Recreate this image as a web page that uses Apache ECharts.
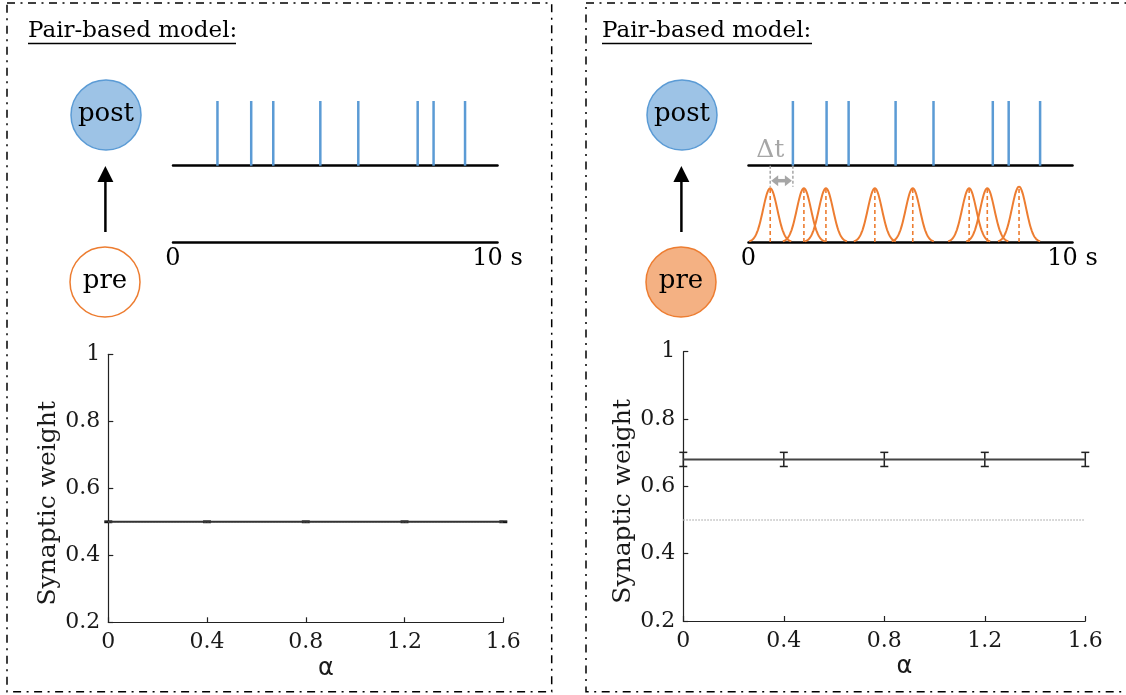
<!DOCTYPE html>
<html><head><meta charset="utf-8">
<script src="https://cdn.jsdelivr.net/npm/echarts@6/dist/echarts.min.js"></script>
<style>html,body{margin:0;padding:0;background:#fff}#c{width:1126px;height:695px}</style>
</head><body><div id="c"></div>
<script>
// ---- data ----
const postSpikeTimes = [1.37, 2.41, 3.09, 4.54, 5.71, 7.54, 8.03, 9.00];   // s
const preSpikeTimes  = [0.67, 1.71, 2.39, 3.90, 5.07, 6.81, 7.37, 8.35];   // s (right panel)
const preKernelPeaks = [1, 1, 1, 1, 1, 1, 1, 1.03];
const timeTicks = [0, 10];
const alphaValues = [0, 0.4, 0.8, 1.2, 1.6];
const weightLeft  = [0.5, 0.5, 0.5, 0.5, 0.5];
const errLeft     = [0.002, 0.002, 0.002, 0.002, 0.002];
const weightRight = [0.68, 0.68, 0.68, 0.68, 0.68];
const errRight    = [0.021, 0.021, 0.021, 0.021, 0.021];
const initialWeight = [0.5, 0.5, 0.5, 0.5, 0.5];
const yTicks = [0.2, 0.4, 0.6, 0.8, 1];

// ---- styles ----
const SERIF = "'DejaVu Serif'";
const BLUE = '#5b9bd5', BLUE_FILL = '#9dc3e6', ORANGE = '#ed7d31', ORANGE_FILL = '#f4b183', GRAY = '#a6a6a6';
const KERNEL_SIGMA = 0.22, KERNEL_HALF = 0.65;

const chart = echarts.init(document.getElementById('c'), null, {renderer: 'canvas'});

function rasterX(gi, withLabels) {
  return {
    type: 'value', gridIndex: gi, min: timeTicks[0], max: timeTicks[1], interval: timeTicks[1] - timeTicks[0],
    axisLine: {show: true, onZero: true, lineStyle: {color: '#000', width: 2.5}},
    axisTick: {show: false}, splitLine: {show: false},
    axisLabel: withLabels ? {show: true, color: '#000', fontFamily: SERIF, fontSize: 24, margin: 5,
      showMinLabel: true, showMaxLabel: true,
      formatter: v => v === timeTicks[1] ? v + ' s' : String(v)} : {show: false}
  };
}
function rasterY(gi) {
  return {type: 'value', gridIndex: gi, min: 0, max: 1, show: false, splitLine: {show: false}};
}
function plotX(gi) {
  return {
    type: 'value', gridIndex: gi, min: alphaValues[0], max: alphaValues[alphaValues.length - 1], interval: 0.4,
    axisLine: {show: true, onZero: false, lineStyle: {color: '#222', width: 1.2}},
    axisTick: {show: true, inside: true, length: 5, lineStyle: {color: '#222', width: 1.2}},
    splitLine: {show: false},
    axisLabel: {color: '#1a1a1a', fontFamily: SERIF, fontSize: 22, margin: 9, showMinLabel: true, showMaxLabel: true},
    name: 'α', nameLocation: 'middle', nameGap: 34,
    nameTextStyle: {color: '#1a1a1a', fontFamily: 'DejaVu Sans', fontSize: 24, padding: [0, 0, 0, 40]}
  };
}
function plotY(gi) {
  return {
    type: 'value', gridIndex: gi, min: yTicks[0], max: yTicks[yTicks.length - 1], interval: 0.2,
    axisLine: {show: true, onZero: false, lineStyle: {color: '#222', width: 1.2}},
    axisTick: {show: true, inside: true, length: 5, lineStyle: {color: '#222', width: 1.2}},
    splitLine: {show: false},
    axisLabel: {color: '#1a1a1a', fontFamily: SERIF, fontSize: 22, margin: 8, showMinLabel: true, showMaxLabel: true,
      formatter: v => String(+v.toFixed(1))},
    name: 'Synaptic weight', nameLocation: 'middle', nameGap: 44, nameRotate: 90,
    nameTextStyle: {color: '#1a1a1a', fontFamily: SERIF, fontSize: 25, padding: [0, 30, 0, 0]}
  };
}

function spikeRender(params, api) {
  const t = api.value(0);
  const p0 = api.coord([t, 0]), p1 = api.coord([t, 1]);
  return {type: 'line', shape: {x1: p0[0], y1: p0[1], x2: p1[0], y2: p1[1]},
    style: {stroke: BLUE, lineWidth: 2.5}};
}
function kernelRender(params, api) {
  const t = api.value(0), a = api.value(1);
  const pts = [];
  const n = 40;
  for (let k = -n; k <= n; k++) {
    const dt = KERNEL_HALF * k / n;
    pts.push(api.coord([t + dt, a * Math.exp(-dt * dt / (2 * KERNEL_SIGMA * KERNEL_SIGMA))]));
  }
  const top = api.coord([t, a]), base = api.coord([t, 0]);
  return {type: 'group', children: [
    {type: 'polyline', shape: {points: pts}, style: {stroke: ORANGE, lineWidth: 2, fill: null}},
    {type: 'line', shape: {x1: base[0], y1: base[1], x2: top[0], y2: top[1]},
      style: {stroke: ORANGE, lineWidth: 1.6, lineDash: [4, 3]}}
  ]};
}
function deltaRender(params, api) {
  const a = api.coord([api.value(0), 0]), b = api.coord([api.value(1), 0]);
  const yEnd = a[1] + 21, yArr = a[1] + 15, hl = 7, hh = 5.5;
  return {type: 'group', children: [
    {type: 'line', shape: {x1: a[0], y1: a[1], x2: a[0], y2: yEnd}, style: {stroke: GRAY, lineWidth: 1.5, lineDash: [3, 2]}},
    {type: 'line', shape: {x1: b[0], y1: a[1], x2: b[0], y2: yEnd}, style: {stroke: GRAY, lineWidth: 1.5, lineDash: [3, 2]}},
    {type: 'line', shape: {x1: a[0] + hl, y1: yArr, x2: b[0] - hl, y2: yArr}, style: {stroke: GRAY, lineWidth: 3.5}},
    {type: 'polygon', shape: {points: [[a[0] + 1, yArr], [a[0] + 1 + hl, yArr - hh], [a[0] + 1 + hl, yArr + hh]]}, style: {fill: GRAY}},
    {type: 'polygon', shape: {points: [[b[0] - 1, yArr], [b[0] - 1 - hl, yArr - hh], [b[0] - 1 - hl, yArr + hh]]}, style: {fill: GRAY}},
    {type: 'text', style: {x: a[0], y: a[1] - 15, text: 'Δt', fill: GRAY, font: '25px ' + SERIF, align: 'center', verticalAlign: 'middle'}}
  ]};
}
function errRender(color) {
  return function (params, api) {
    const x = api.value(0), y = api.value(1), e = api.value(2);
    const t = api.coord([x, y + e]), b = api.coord([x, y - e]);
    const hw = 4;
    const st = {stroke: color, lineWidth: 1.5};
    return {type: 'group', children: [
      {type: 'line', shape: {x1: t[0], y1: t[1], x2: b[0], y2: b[1]}, style: st},
      {type: 'line', shape: {x1: t[0] - hw, y1: t[1], x2: t[0] + hw, y2: t[1]}, style: st},
      {type: 'line', shape: {x1: b[0] - hw, y1: b[1], x2: b[0] + hw, y2: b[1]}, style: st}
    ]};
  };
}

const graphic = [
  {type: 'rect', shape: {x: 7, y: 3, width: 544.7, height: 688.7}, style: {fill: 'none', stroke: '#000', lineWidth: 1.5, lineDash: [8, 5.5, 2, 5.5]}},
  {type: 'rect', shape: {x: 586, y: 3, width: 560, height: 688.7}, style: {fill: 'none', stroke: '#000', lineWidth: 1.5, lineDash: [8, 5.5, 2, 5.5]}},
  {type: 'text', x: 28, y: 31, style: {text: 'Pair-based model:', fill: '#000', font: '23px ' + SERIF, verticalAlign: 'middle'}},
  {type: 'line', shape: {x1: 28, y1: 43.5, x2: 236, y2: 43.5}, style: {stroke: '#000', lineWidth: 1.4}},
  {type: 'text', x: 602, y: 31, style: {text: 'Pair-based model:', fill: '#000', font: '23px ' + SERIF, verticalAlign: 'middle'}},
  {type: 'line', shape: {x1: 602, y1: 43.5, x2: 812, y2: 43.5}, style: {stroke: '#000', lineWidth: 1.4}},
  // left neurons
  {type: 'circle', shape: {cx: 106, cy: 115, r: 35}, style: {fill: BLUE_FILL, stroke: BLUE, lineWidth: 1.5}},
  {type: 'text', x: 106, y: 114, style: {text: 'post', fill: '#000', font: '26px ' + SERIF, align: 'center', verticalAlign: 'middle'}},
  {type: 'circle', shape: {cx: 105, cy: 282, r: 35}, style: {fill: '#fff', stroke: ORANGE, lineWidth: 1.5}},
  {type: 'text', x: 105, y: 281, style: {text: 'pre', fill: '#000', font: '26px ' + SERIF, align: 'center', verticalAlign: 'middle'}},
  {type: 'line', shape: {x1: 105.4, y1: 232, x2: 105.4, y2: 178}, style: {stroke: '#000', lineWidth: 2.5}},
  {type: 'polygon', shape: {points: [[105.4, 166], [97.4, 182], [113.4, 182]]}, style: {fill: '#000'}},
  // right neurons
  {type: 'circle', shape: {cx: 682, cy: 115, r: 35}, style: {fill: BLUE_FILL, stroke: BLUE, lineWidth: 1.5}},
  {type: 'text', x: 682, y: 114, style: {text: 'post', fill: '#000', font: '26px ' + SERIF, align: 'center', verticalAlign: 'middle'}},
  {type: 'circle', shape: {cx: 681, cy: 282, r: 35}, style: {fill: ORANGE_FILL, stroke: ORANGE, lineWidth: 1.5}},
  {type: 'text', x: 681, y: 281, style: {text: 'pre', fill: '#000', font: '26px ' + SERIF, align: 'center', verticalAlign: 'middle'}},
  {type: 'line', shape: {x1: 681.4, y1: 232, x2: 681.4, y2: 178}, style: {stroke: '#000', lineWidth: 2.5}},
  {type: 'polygon', shape: {points: [[681.4, 166], [673.4, 182], [689.4, 182]]}, style: {fill: '#000'}}
];

const option = {
  animation: false,
  backgroundColor: '#fff',
  grid: [
    {left: 173, top: 101, width: 324.5, height: 64.7},
    {left: 173, top: 188.3, width: 324.5, height: 53.7},
    {left: 748.5, top: 101, width: 324, height: 64.7},
    {left: 748.5, top: 188.3, width: 324, height: 53.7},
    {left: 108.3, top: 354.3, width: 395, height: 268},
    {left: 683.3, top: 351.7, width: 402, height: 269.3}
  ],
  xAxis: [rasterX(0, false), rasterX(1, true), rasterX(2, false), rasterX(3, true), plotX(4), plotX(5)],
  yAxis: [rasterY(0), rasterY(1), rasterY(2), rasterY(3), plotY(4), plotY(5)],
  graphic: graphic,
  series: [
    {type: 'custom', xAxisIndex: 0, yAxisIndex: 0, renderItem: spikeRender, data: postSpikeTimes.map(t => [t, 1])},
    {type: 'custom', xAxisIndex: 2, yAxisIndex: 2, renderItem: spikeRender, data: postSpikeTimes.map(t => [t, 1])},
    {type: 'custom', xAxisIndex: 3, yAxisIndex: 3, renderItem: kernelRender, data: preSpikeTimes.map((t, i) => [t, preKernelPeaks[i]])},
    {type: 'custom', xAxisIndex: 2, yAxisIndex: 2, renderItem: deltaRender, z: 5, data: [[preSpikeTimes[0], postSpikeTimes[0]]]},
    {type: 'line', xAxisIndex: 4, yAxisIndex: 4, symbol: 'none', data: alphaValues.map((a, i) => [a, initialWeight[i]]),
      lineStyle: {color: '#bdbdbd', width: 1.5, type: 'dotted'}},
    {type: 'line', xAxisIndex: 4, yAxisIndex: 4, symbol: 'none', data: alphaValues.map((a, i) => [a, weightLeft[i]]),
      lineStyle: {color: '#333', width: 2}},
    {type: 'custom', xAxisIndex: 4, yAxisIndex: 4, renderItem: errRender('#111'), data: alphaValues.map((a, i) => [a, weightLeft[i], errLeft[i]])},
    {type: 'line', xAxisIndex: 5, yAxisIndex: 5, symbol: 'none', data: alphaValues.map((a, i) => [a, initialWeight[i]]),
      lineStyle: {color: '#bdbdbd', width: 1.5, type: 'dotted'}},
    {type: 'line', xAxisIndex: 5, yAxisIndex: 5, symbol: 'none', data: alphaValues.map((a, i) => [a, weightRight[i]]),
      lineStyle: {color: '#444', width: 2}},
    {type: 'custom', xAxisIndex: 5, yAxisIndex: 5, renderItem: errRender('#222'), data: alphaValues.map((a, i) => [a, weightRight[i], errRight[i]])}
  ]
};
chart.setOption(option);
</script></body></html>
